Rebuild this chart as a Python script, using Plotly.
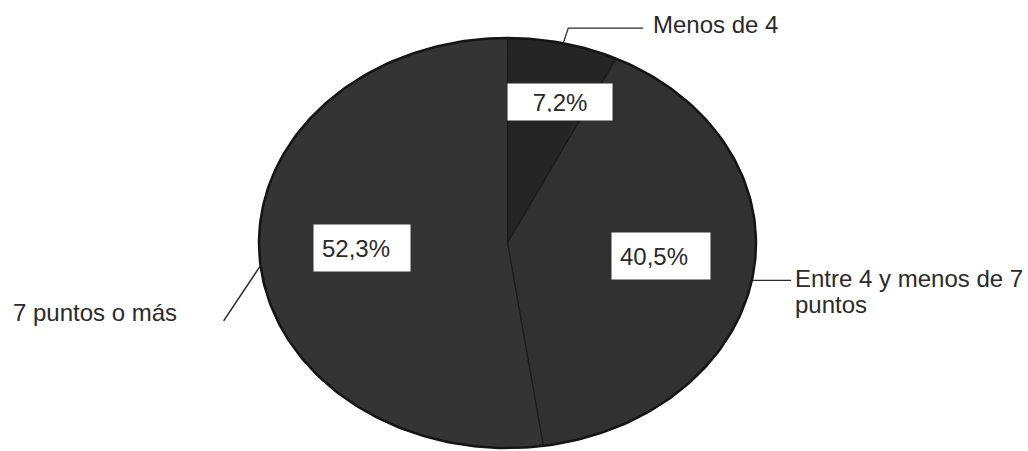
import numpy as np
import plotly.graph_objects as go

# ---- data ----
categories = ["Menos de 4", "Entre 4 y menos de 7<br>puntos", "7 puntos o más"]
values = [7.2, 40.5, 52.3]
pct_labels = ["7,2%", "40,5%", "52,3%"]

# ---- style ----
colors = ["#252525", "#313131", "#343434"]
CX, CY, RX, RY = 507.5, 243, 248.5, 205          # ellipse geometry in pixel units
FONT = "Liberation Sans, Arial, sans-serif"
TXT = "#2a2a2a"
FS = 24

def pt(theta_deg, r=1.0):
    t = np.radians(theta_deg)
    return CX + r * RX * np.sin(t), CY - r * RY * np.cos(t)

fig = go.Figure()

total = sum(values)
cum = np.concatenate([[0.0], np.cumsum(values)]) / total * 360.0
mids = (cum[:-1] + cum[1:]) / 2

# slices (clockwise from 12 o'clock)
for i, v in enumerate(values):
    th = np.linspace(cum[i], cum[i + 1], 120)
    ex, ey = pt(th)
    xs = np.concatenate([[CX], ex, [CX]])
    ys = np.concatenate([[CY], ey, [CY]])
    fig.add_trace(go.Scatter(x=xs, y=ys, mode="lines", fill="toself",
                             fillcolor=colors[i], line=dict(color="#1c1c1c", width=1.2),
                             hoverinfo="text", text=f"{categories[i]}: {pct_labels[i]}",
                             showlegend=False))

# outline
th = np.linspace(0, 360, 361)
ox, oy = pt(th)
fig.add_trace(go.Scatter(x=ox, y=oy, mode="lines", line=dict(color="#151515", width=2.5),
                         hoverinfo="skip", showlegend=False))

# percentage boxes
box_r = [0.72, 0.62, 0.585]
box_dt = [4, -3, 1.6]
box_w = [88, 82, 80]
box_h = [20, 30, 30]
box_align = ["center", "left", "left"]
for i, lab in enumerate(pct_labels):
    bx, by = pt(mids[i] + box_dt[i], box_r[i])
    fig.add_annotation(x=bx, y=by, text=lab, showarrow=False, xref="x", yref="y",
                       bgcolor="white", borderpad=8, width=box_w[i], height=box_h[i],
                       align=box_align[i],
                       font=dict(family=FONT, size=FS, color=TXT))

# leader lines
lead_color = "#2a2a2a"
# Menos de 4
sx, sy = pt(mids[0])
fig.add_trace(go.Scatter(x=[sx, sx + 5, sx + 80], y=[sy, sy - 15, sy - 15], mode="lines",
                         line=dict(color=lead_color, width=1.2), hoverinfo="skip", showlegend=False))
fig.add_annotation(x=sx + 88, y=sy - 19, text=categories[0], showarrow=False, xanchor="left",
                   font=dict(family=FONT, size=FS, color=TXT))
# Entre 4 y menos de 7 puntos
sx, sy = pt(mids[1])
fig.add_trace(go.Scatter(x=[sx, sx + 38], y=[sy + 6, sy + 6], mode="lines",
                         line=dict(color=lead_color, width=1.2), hoverinfo="skip", showlegend=False))
for k, line in enumerate(categories[1].split("<br>")):
    fig.add_annotation(x=sx + 40, y=sy + 4 + 26 * k, text=line, showarrow=False, xanchor="left",
                       font=dict(family=FONT, size=FS, color=TXT))
# 7 puntos o más
sx, sy = pt(mids[2])
fig.add_trace(go.Scatter(x=[sx + 2, sx - 36], y=[sy + 6, sy + 63], mode="lines",
                         line=dict(color=lead_color, width=1.5), hoverinfo="skip", showlegend=False))
fig.add_annotation(x=11, y=sy + 55, text=categories[2], showarrow=False, xanchor="left",
                   font=dict(family=FONT, size=FS, color=TXT))

fig.update_layout(
    width=1028, height=451,
    margin=dict(l=0, r=0, t=0, b=0),
    paper_bgcolor="white", plot_bgcolor="white",
    xaxis=dict(range=[0, 1028], visible=False, fixedrange=True),
    yaxis=dict(range=[451, 0], visible=False, fixedrange=True),
    showlegend=False,
)

fig.write_html("out.html", config={"displayModeBar": False},
               post_script="document.body.style.margin='0';")
